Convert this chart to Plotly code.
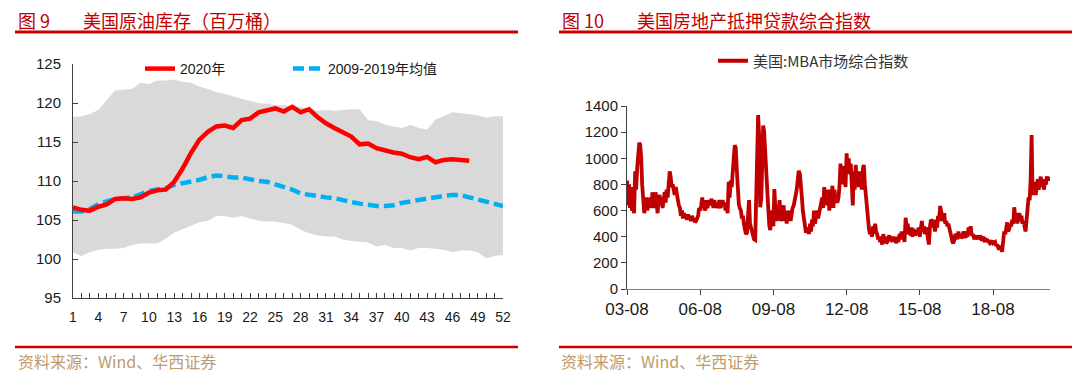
import pandas as pd
import plotly.graph_objects as go

# Page body has an 8px margin: lay out in reference pixel coordinates and convert.
OFF = 8
W, H = 1080 - OFF, 378 - OFF


def fx(px):
    return (px - OFF) / W


def fy(py):
    return 1 - (py - OFF) / H


# ---------------- Left chart data: US crude inventories (million barrels) ----------------
weeks = list(range(1, 53))
band_upper = [118.2, 118.3, 118.6, 119.1, 120.4, 121.6, 121.7, 121.8, 122.6, 122.4,
              122.9, 122.9, 123.0, 122.7, 122.6, 122.1, 121.8, 121.4, 121.2, 120.8,
              120.5, 120.3, 120.0, 119.9, 119.75, 119.7, 119.6, 119.5, 119.3, 119.0,
              119.1, 119.0, 119.1, 119.2, 119.2, 117.8, 117.7, 117.2, 117.0, 116.8,
              117.2, 116.8, 116.6, 117.9, 118.3, 118.8, 118.7, 118.6, 118.4, 118.1,
              118.3, 118.3]
band_lower = [100.8, 100.4, 100.85, 101.2, 101.3, 101.3, 101.4, 101.8, 102.0, 102.0,
              102.0, 102.6, 103.4, 103.8, 104.2, 104.7, 104.9, 105.5, 105.5, 105.3,
              105.5, 105.2, 104.9, 104.8, 104.8, 104.6, 104.4, 103.75, 103.3, 103.0,
              102.9, 102.9, 102.5, 102.3, 102.2, 102.1, 101.6, 101.8, 101.4, 101.4,
              101.1, 101.4, 101.4, 101.3, 101.2, 100.85, 101.1, 101.1, 100.85, 100.1,
              100.4, 100.5]
stock_2020 = [106.6, 106.3, 106.2, 106.7, 107.0, 107.7, 107.8, 107.7, 107.9, 108.5,
              108.8, 108.9, 109.9, 111.6, 113.6, 115.3, 116.3, 117.0, 117.1, 116.8,
              117.8, 118.0, 118.8, 119.1, 119.3, 118.9, 119.5, 118.8, 119.2, 118.2,
              117.4, 116.8, 116.25, 115.7, 114.7, 114.8, 114.2, 113.9, 113.65, 113.5,
              113.05, 112.8, 113.1, 112.4, 112.7, 112.8, 112.7, 112.6]
stock_mean = [106.1, 106.1, 106.4, 107.0, 107.4, 107.7, 107.8, 107.9, 108.3, 108.7,
              108.9, 109.1, 109.5, 109.7, 109.9, 110.15, 110.5, 110.7, 110.6, 110.45,
              110.45, 110.2, 110.0, 109.9, 109.6, 109.3, 108.9, 108.4, 108.2, 108.1,
              107.9, 107.8, 107.5, 107.3, 107.1, 106.9, 106.8, 106.8, 106.9, 107.2,
              107.4, 107.6, 107.7, 107.9, 108.1, 108.2, 108.2, 107.9, 107.6, 107.3,
              107.1, 106.8]

# ---------------- Right chart data: MBA composite index (semi-monthly readings) ----------------
mba_2003 = [830, 640, 800, 620, 780, 600, 620, 580, 900, 760]
mba_2004 = [930, 1020, 1120, 1100, 1000, 800, 620, 580, 640, 700, 600, 680,
            650, 700, 620, 740, 680, 620, 740, 660, 580, 680, 720, 640]
mba_2005 = [700, 620, 680, 740, 660, 760, 700, 820, 900, 860, 780, 800,
            760, 720, 780, 700, 680, 640, 620, 560, 600, 540, 580, 550]
mba_2006 = [560, 530, 570, 540, 550, 520, 560, 530, 540, 510, 520, 540,
            560, 620, 600, 640, 700, 620, 640, 600, 680, 620, 650, 680]
mba_2007 = [640, 690, 660, 620, 680, 640, 660, 620, 640, 680, 620, 660,
            680, 650, 660, 600, 640, 580, 820, 700, 830, 780, 940, 1000]
mba_2008 = [1100, 1080, 900, 760, 650, 620, 600, 540, 560, 500, 460, 420,
            430, 520, 680, 500, 460, 420, 400, 380, 375, 620, 1000, 1330]
mba_2009 = [1150, 625, 700, 900, 1250, 1200, 1000, 900, 700, 620, 480, 450,
            560, 600, 480, 765, 600, 520, 640, 560, 680, 520, 560, 600]
mba_2010 = [640, 520, 600, 500, 560, 540, 600, 520, 580, 620, 640, 700,
            720, 760, 840, 904, 880, 820, 700, 600, 520, 480, 430, 450]
mba_2011 = [470, 420, 500, 440, 530, 480, 600, 500, 560, 600, 540, 580,
            600, 640, 700, 620, 780, 680, 720, 640, 760, 600, 700, 660]
mba_2012 = [790, 620, 760, 680, 700, 660, 700, 780, 960, 820, 940, 800,
            900, 780, 1038, 900, 1000, 880, 960, 820, 640, 900, 760, 950]
mba_2013 = [820, 900, 780, 900, 840, 760, 920, 950, 800, 700, 600, 520,
            460, 420, 440, 400, 480, 420, 500, 440, 420, 380, 400, 360]
mba_2014 = [380, 340, 420, 380, 400, 350, 360, 390, 410, 370, 380, 360,
            400, 370, 380, 350, 400, 360, 420, 380, 440, 390, 400, 360]
mba_2015 = [545, 480, 500, 420, 440, 410, 470, 400, 460, 420, 420, 450,
            430, 470, 400, 460, 520, 440, 480, 420, 470, 440, 400, 340]
mba_2016 = [480, 530, 520, 470, 530, 440, 500, 470, 560, 520, 635, 600,
            560, 520, 580, 500, 520, 480, 500, 470, 460, 400, 360, 350]
mba_2017 = [380, 420, 410, 380, 440, 400, 420, 390, 400, 440, 420, 390,
            440, 400, 470, 420, 480, 410, 420, 400, 410, 380, 400, 390]
mba_2018 = [410, 380, 390, 370, 400, 380, 390, 360, 380, 370, 370, 350,
            360, 370, 350, 360, 360, 330, 340, 320, 330, 300, 320, 285]
mba_2019 = [380, 440, 420, 460, 510, 440, 460, 500, 480, 530, 500, 625,
            540, 580, 500, 560, 580, 520, 560, 500, 520, 480, 440, 520]
mba_2020 = [600, 700, 680, 840, 1178, 720, 760, 820, 720, 780, 840,
            760, 800, 860, 780, 840, 760, 820, 800, 860, 830, 860]

mba_values = (mba_2003 + mba_2004 + mba_2005 + mba_2006 + mba_2007 + mba_2008 +
              mba_2009 + mba_2010 + mba_2011 + mba_2012 + mba_2013 + mba_2014 +
              mba_2015 + mba_2016 + mba_2017 + mba_2018 + mba_2019 + mba_2020)
mba_dates = pd.date_range("2003-08-01", periods=len(mba_values), freq="SMS")

left_yticks = [95, 100, 105, 110, 115, 120, 125]
right_yticks = [0, 200, 400, 600, 800, 1000, 1200, 1400]

# ---------------- Figure ----------------
fig = go.Figure()

fig.add_trace(go.Scatter(x=weeks, y=band_lower, mode="lines", line=dict(width=0),
                         hoverinfo="skip", showlegend=False, xaxis="x", yaxis="y"))
fig.add_trace(go.Scatter(x=weeks, y=band_upper, mode="lines", line=dict(width=0),
                         fill="tonexty", fillcolor="#d9d9d9", hoverinfo="skip",
                         showlegend=False, xaxis="x", yaxis="y"))
fig.add_trace(go.Scatter(x=weeks, y=stock_mean, mode="lines", name="2009-2019年均值",
                         line=dict(color="#00b0f0", width=4.5, dash="11px,5px"),
                         xaxis="x", yaxis="y", legend="legend2"))
fig.add_trace(go.Scatter(x=weeks[:len(stock_2020)], y=stock_2020, mode="lines", name="2020年",
                         line=dict(color="#ff0000", width=4.5),
                         xaxis="x", yaxis="y", legend="legend"))
fig.add_trace(go.Scatter(x=mba_dates, y=mba_values, mode="lines", name="美国:MBA市场综合指数",
                         line=dict(color="#c00000", width=3.8),
                         xaxis="x2", yaxis="y2", legend="legend3"))

sans = "Liberation Sans, Arial, Noto Sans CJK SC"
cjk = "Noto Sans CJK SC"
axis_col = "#404040"

fig.update_layout(
    template="none",
    width=W, height=H, margin=dict(l=0, r=0, t=0, b=0, autoexpand=False),
    paper_bgcolor="white", plot_bgcolor="white",
    showlegend=True,
    xaxis=dict(domain=[fx(73), fx(503)], range=[1, 52], tickmode="linear", tick0=1, dtick=3,
               ticks="inside", ticklen=5, tickcolor=axis_col, showline=True, linecolor=axis_col,
               linewidth=1, showgrid=False, zeroline=False, ticklabelstandoff=6, automargin=False,
               minor=dict(dtick=1, tick0=1, ticks="inside", ticklen=5, tickcolor=axis_col, showgrid=False),
               tickfont=dict(family=sans, size=14, color="#1a1a1a"), anchor="y"),
    yaxis=dict(domain=[fy(298), fy(64)], range=[95, 125], tickvals=left_yticks,
               ticks="inside", ticklen=5, tickcolor=axis_col, showline=True, linecolor=axis_col,
               linewidth=1, showgrid=False, zeroline=False, ticklabelstandoff=8, automargin=False,
               tickfont=dict(family=sans, size=15, color="#1a1a1a"), anchor="x"),
    xaxis2=dict(domain=[fx(627), fx(1050)], type="date", range=["2003-08-01", "2020-12-01"],
                tickmode="linear", tick0="2003-08-01", dtick="M36", tickformat="%y-%m",
                ticks="outside", ticklen=5, tickcolor=axis_col, showline=True, linecolor="#808080",
                linewidth=1, showgrid=False, zeroline=False, automargin=False,
                tickfont=dict(family=sans, size=17, color="#1a1a1a"), anchor="y2"),
    yaxis2=dict(domain=[fy(289), fy(106)], range=[0, 1400], tickvals=right_yticks,
                ticks="outside", ticklen=5, tickcolor=axis_col, showline=True, linecolor=axis_col,
                linewidth=1, showgrid=False, zeroline=False, automargin=False,
                tickfont=dict(family=sans, size=15, color="#1a1a1a"), anchor="x2"),
    legend=dict(x=fx(140), y=fy(69), xanchor="left", yanchor="middle", orientation="h",
                bgcolor="rgba(0,0,0,0)", font=dict(family=sans, size=14, color="#1a1a1a")),
    legend2=dict(x=fx(288), y=fy(69), xanchor="left", yanchor="middle", orientation="h",
                 bgcolor="rgba(0,0,0,0)", font=dict(family=sans, size=14, color="#1a1a1a")),
    legend3=dict(x=fx(713), y=fy(61), xanchor="left", yanchor="middle", orientation="h",
                 bgcolor="rgba(0,0,0,0)", font=dict(family=cjk, size=15, color="#333333")),
)

red = "#cc0000"
shapes = []
for x0, x1 in [(15, 518), (559, 1080)]:
    shapes.append(dict(type="line", xref="paper", yref="paper", x0=fx(x0), x1=fx(x1),
                       y0=fy(32), y1=fy(32), line=dict(color=red, width=3)))
    shapes.append(dict(type="line", xref="paper", yref="paper", x0=fx(x0), x1=fx(x1),
                       y0=fy(347), y1=fy(347), line=dict(color=red, width=2.5)))
fig.update_layout(shapes=shapes)

title_font = dict(family=cjk, size=18, color="#c00000")
src_font = dict(family=cjk, size=16, color="#c09a6b")
ann = [
    dict(text="图 9", x=17, y=20),
    dict(text="美国原油库存（百万桶）", x=82, y=20),
    dict(text="图 10", x=561, y=20),
    dict(text="美国房地产抵押贷款综合指数", x=636, y=20),
]
annotations = []
for a in ann:
    annotations.append(dict(text=a["text"], x=fx(a["x"]), y=fy(a["y"]), xref="paper", yref="paper",
                            xanchor="left", yanchor="middle", showarrow=False, borderpad=0,
                            font=title_font))
for x in [16, 559]:
    annotations.append(dict(text="资料来源：Wind、华西证券", x=fx(x), y=fy(361), xref="paper",
                            yref="paper", xanchor="left", yanchor="middle", showarrow=False,
                            font=src_font))
fig.update_layout(annotations=annotations)

fig.write_html("out.html")
